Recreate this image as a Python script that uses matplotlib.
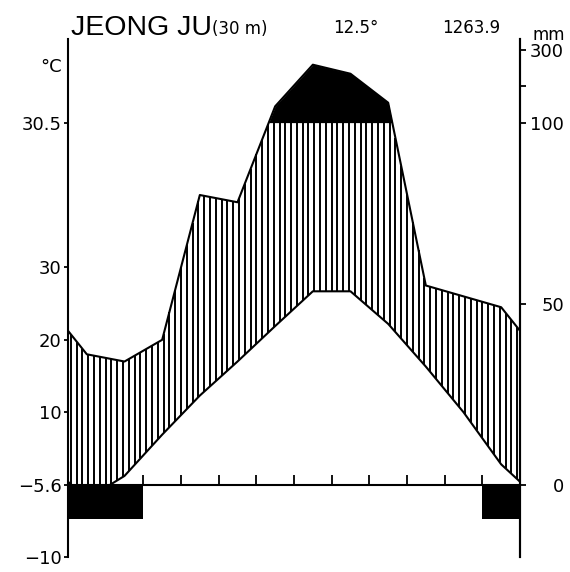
import numpy as np
import matplotlib.pyplot as plt

# monthly means (Jan..Dec)
months = np.arange(12) + 0.5
temp = [-2.0, 1.2, 6.9, 12.3, 17.0, 21.9, 26.7, 26.7, 22.2, 16.3, 10.0, 2.8]
prec = [36, 34, 40, 80, 78, 145, 260, 235, 155, 55, 52, 49]
frost = [1, 1, 0, 0, 0, 0, 0, 0, 0, 0, 0, 1]

station = 'JEONG JU'
altitude = '(30 m)'
mean_temp = '12.5°'
annual_prec = '1263.9'

left_ticks = [-20, 0, 20, 40, 60, 100]
left_labels = ['\u221210', '\u22125.6', '10', '20', '30', '30.5']
right_ticks = [0, 50, 100, 110, 120]
right_labels = ['0', '50', '100', '', '300']
month_edges = list(range(2, 12))

W, H = 570, 572


def px(x, y):
    return x / W, 1 - y / H


def squash(p):
    # above 100 mm the scale is reduced to 1/10
    p = np.asarray(p, dtype=float)
    return np.where(p > 100, 100 + (p - 100) / 10, p)


p_plot = squash(prec)
t_plot = 2 * np.asarray(temp, dtype=float)  # 10 degC = 20 mm

x_c = np.concatenate([[0], months, [12]])
p_edge = (p_plot[0] + p_plot[-1]) / 2
t_edge = (t_plot[0] + t_plot[-1]) / 2
p_c = np.concatenate([[p_edge], p_plot, [p_edge]])
t_c = np.concatenate([[t_edge], t_plot, [t_edge]])

fig = plt.figure(figsize=(W / 100, H / 100), dpi=100)
ax = fig.add_axes([68 / W, (H - 557) / H, (520 - 68) / W, (557 - 39) / H])
ax.set_xlim(0, 12)
ax.set_ylim(-19.56, 123.1)

# humid period hatching
step = 12 / 78
xs = np.arange(step / 2, 12, step)
lo = np.maximum(np.interp(xs, x_c, t_c), 0)
hi = np.minimum(np.interp(xs, x_c, p_c), 100)
ok = hi > lo
ax.vlines(xs[ok], lo[ok], hi[ok], color='black', lw=1.4)

# perhumid part above 100 mm
xf = np.linspace(0, 12, 2401)
pf = np.interp(xf, x_c, p_c)
ax.fill_between(xf, 100, pf, where=pf >= 100, color='black', lw=0, interpolate=True)

ax.plot(x_c, p_c, color='black', lw=1.5)
ax.plot(x_c, t_c, color='black', lw=1.5)

# months with frost
fm = [m for m, f in zip(months, frost) if f]
ax.bar(fm, -9.6, width=1.0, bottom=0, color='black', zorder=5)

ax.spines['top'].set_visible(False)
ax.spines['bottom'].set_position(('data', 0))
for s in ['left', 'right', 'bottom']:
    ax.spines[s].set_linewidth(1.5)

ax.set_xticks(month_edges)
ax.set_xticklabels([])
ax.tick_params(axis='x', direction='in', length=7, width=1.3)

ax.set_yticks(left_ticks)
ax.set_yticklabels(left_labels, fontsize=13)
ax.tick_params(axis='y', direction='out', length=3, width=1.3, pad=1.5)
ax.yaxis.get_major_ticks()[-1].tick1line.set_visible(False)

ax2 = ax.twinx()
ax2.set_ylim(ax.get_ylim())
for s in ['top', 'bottom', 'left']:
    ax2.spines[s].set_visible(False)
ax2.spines['right'].set_linewidth(1.5)
ax2.set_yticks(right_ticks)
ax2.set_yticklabels(right_labels, fontsize=13)
ax2.tick_params(axis='y', direction='out', length=4, width=1.3, pad=27.7)
for t in ax2.get_yticklabels():
    t.set_ha('right')

fig.text(*px(71, 35), station, fontsize=20.5, family='Liberation Sans', va='baseline')
fig.text(*px(212, 34), altitude, fontsize=12, va='baseline')
fig.text(*px(333, 33), mean_temp, fontsize=12, va='baseline')
fig.text(*px(442, 33), annual_prec, fontsize=12, va='baseline')
fig.text(*px(565, 40), 'mm', fontsize=12, ha='right', va='baseline')
fig.text(*px(40, 72), '°C', fontsize=13, va='baseline')

fig.savefig('out.png', dpi=100)
